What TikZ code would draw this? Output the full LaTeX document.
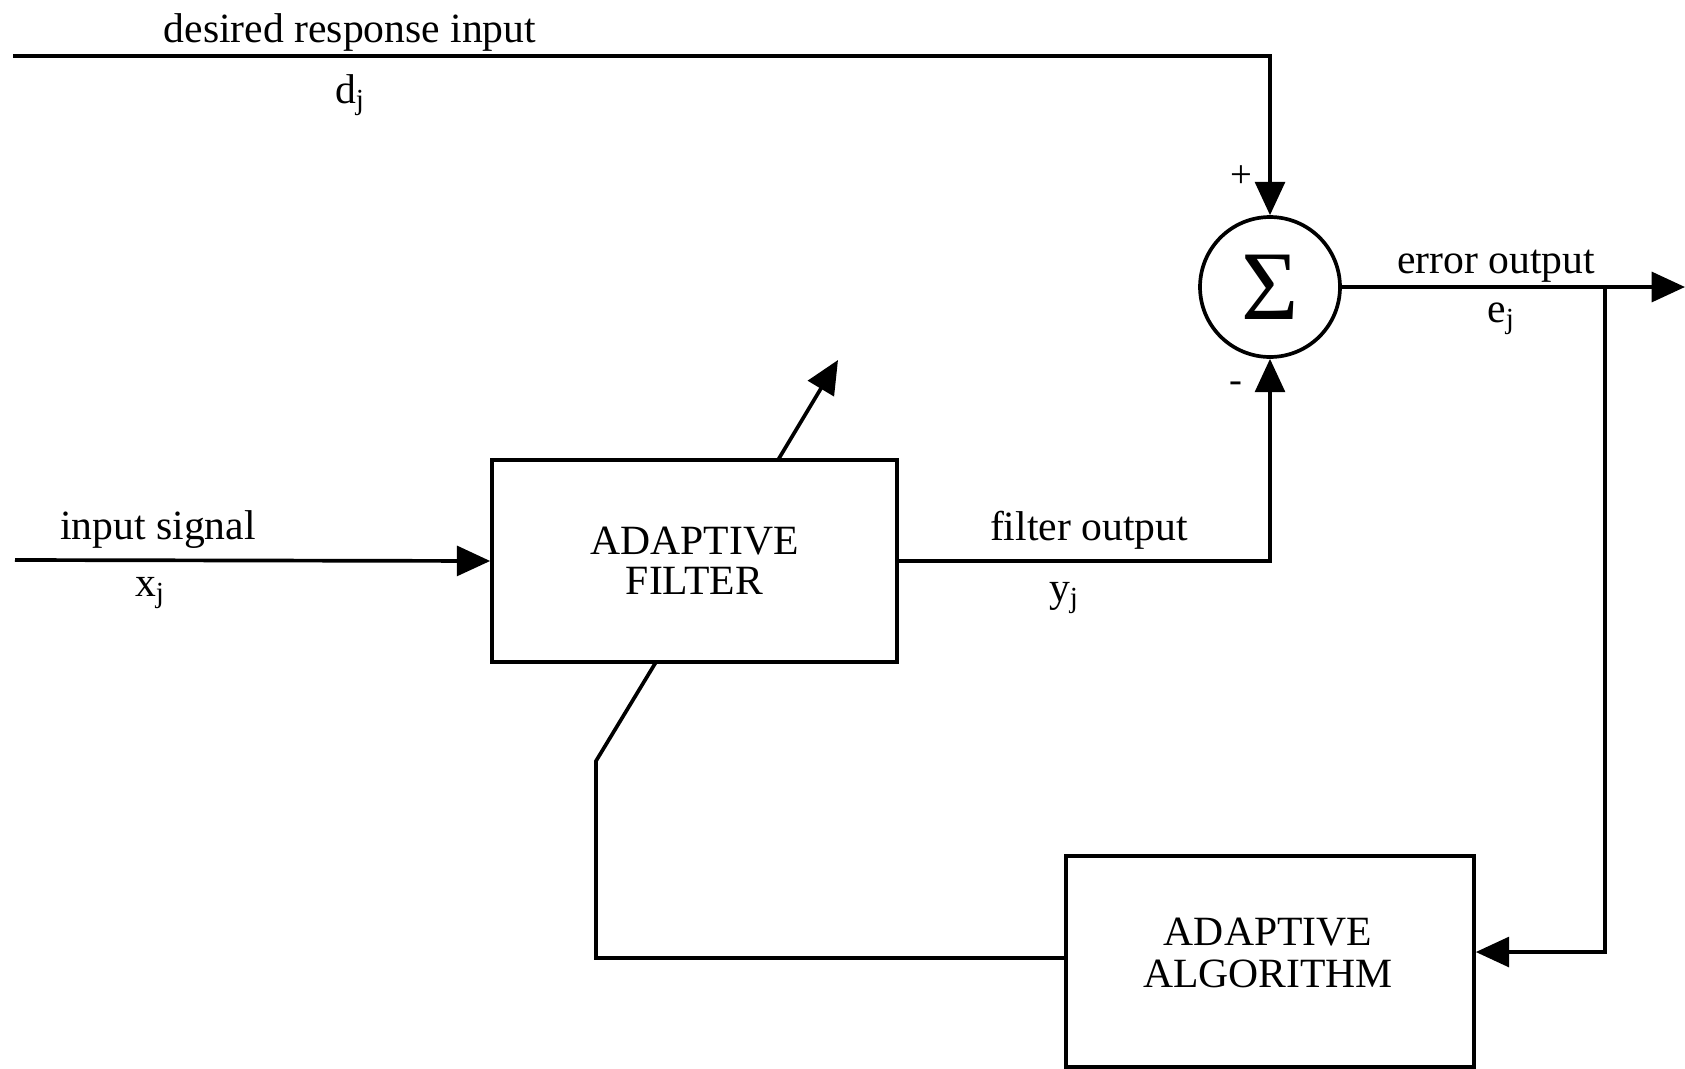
\documentclass[tikz,border=0pt]{standalone}
\usepackage{fontspec}
\setmainfont{Liberation Serif}
\usetikzlibrary{arrows.meta}
\begin{document}
\begin{tikzpicture}[x=0.02cm,y=-0.02cm,
  wire/.style={line width=2.1pt},
  arr/.style={wire,-{Triangle[length=19pt,width=17pt]}},
  blk/.style={draw,line width=2.1pt,align=center,inner sep=0pt,font=\fontsize{23.7}{23}\selectfont},
  txt/.style={align=center,inner sep=0pt,font=\fontsize{23.7}{23.5}\selectfont},
  lbl/.style={inner sep=0pt,font=\fontsize{23.7}{28}\selectfont},
  sgn/.style={inner sep=0pt,font=\fontsize{22}{26}\selectfont}]
\useasboundingbox (0,0) rectangle (1685,1069);
% blocks
\node[blk,minimum width=8.1cm,minimum height=4.04cm] (filt) at (694.5,561) {ADAPTIVE\\FILTER};
\node[blk,minimum width=8.16cm,minimum height=4.22cm] (alg) at (1270,961.5) {};
\node[txt] (algtxt) at (1268,953) {ADAPTIVE\\ALGORITHM};
\node[draw,circle,line width=2.1pt,minimum size=2.8cm,inner sep=0pt,font=\fontsize{56}{56}\selectfont] (sum) at (1270,287) {Σ};
% coordinates
\coordinate (dstart) at (13,56);
\coordinate (xstart) at (15,560);
\coordinate (eend) at (1685,287);
\coordinate (br) at (1605,287);
\coordinate (fb2) at (596,761);
\coordinate (fb3) at (656,662);
\coordinate (a1) at (778,460);
\coordinate (a2) at (838,360);
% connectors
\draw[arr] (dstart) -| (sum.north);
\draw[arr] (xstart) -- (filt.west);
\draw[arr] (filt.east) -| (sum.south);
\draw[arr] (sum.east) -- (eend);
\draw[arr] (br) |- ([yshift=5.4pt]alg.east);
\draw[wire] ([yshift=2pt]alg.west) -| (fb2) -- (fb3);
\draw[arr] (a1) -- (a2);
% labels
\node[lbl] (l1) at (350,32) {desired response input};
\node[lbl] (l2) at (350,95) {d\textsubscript{j}};
\node[lbl] (l3) at (158,530) {input signal};
\node[lbl] (l4) at (150,593) {x\textsubscript{j}};
\node[lbl] (l5) at (1089,530) {filter output};
\node[lbl] (l6) at (1064,598) {y\textsubscript{j}};
\node[lbl] (l7) at (1496,266) {error output};
\node[lbl] (l8) at (1501,319) {e\textsubscript{j}};
\node[sgn] (p1) at (1241,177) {+};
\node[sgn] (m1) at (1236,387) {-};
\end{tikzpicture}
\end{document}
